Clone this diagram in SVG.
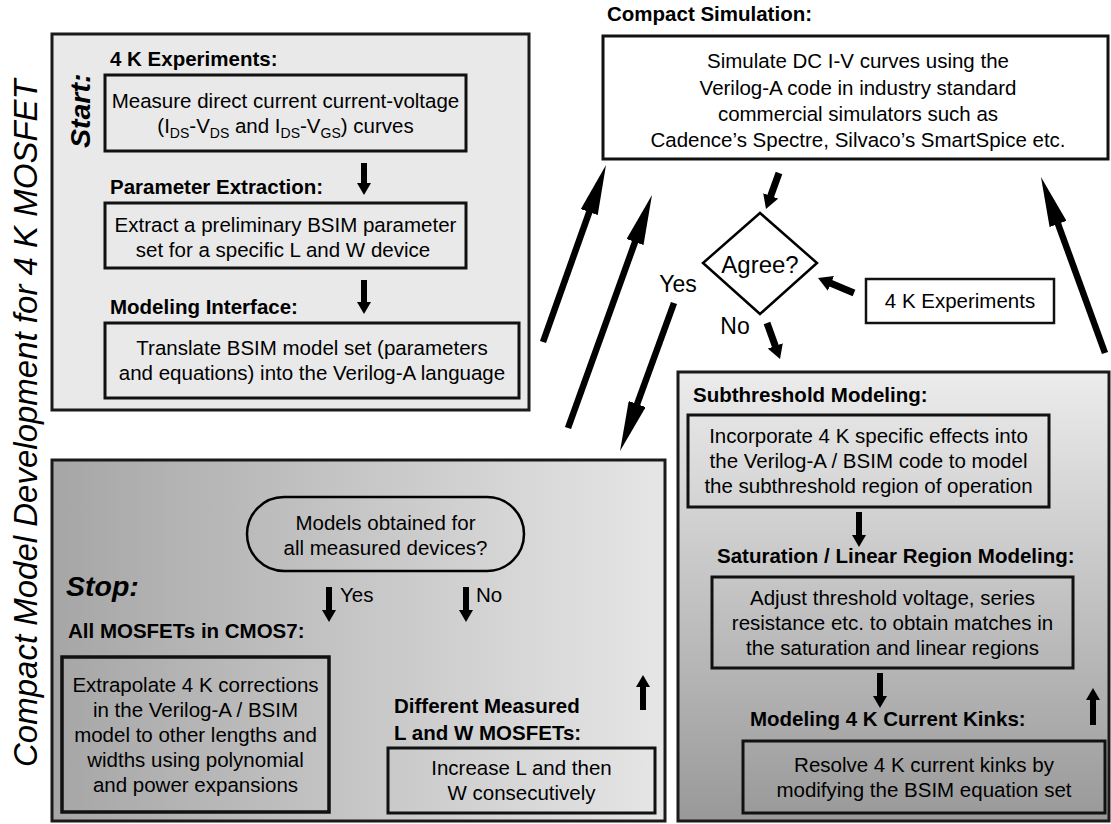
<svg xmlns="http://www.w3.org/2000/svg" width="1111" height="824" viewBox="0 0 1111 824">
<defs>
<style>
text{font-family:'Liberation Sans',Arial,Helvetica,sans-serif;fill:#000}
.t{font-size:20.5px}
.c{text-anchor:middle}
.b{font-size:20.5px;font-weight:bold}
.big{font-size:28.5px;font-weight:bold;font-style:italic}
.sub{font-size:14px}
.box{fill:none;stroke:#111;stroke-width:3}
.wbox{fill:#fff;stroke:#111;stroke-width:3}
.panel{stroke:#1a1a1a;stroke-width:3}
.aL{stroke:#000;stroke-width:6.5;fill:none;marker-end:url(#hL)}
.aS{stroke:#000;stroke-width:7;fill:none;marker-end:url(#hS)}
.aV{stroke:#000;stroke-width:6;fill:none;marker-end:url(#hV)}
</style>
<linearGradient id="gBL" x1="0" y1="0" x2="1" y2="0"><stop offset="0" stop-color="#a6a6a6"/><stop offset="1" stop-color="#e6e6e6"/></linearGradient>
<linearGradient id="gBR" x1="0" y1="0" x2="0" y2="1"><stop offset="0" stop-color="#ececec"/><stop offset="1" stop-color="#999999"/></linearGradient>
<marker id="hL" markerUnits="userSpaceOnUse" markerWidth="50" markerHeight="18" viewBox="0 0 50 18" refX="30" refY="9" orient="auto"><path d="M0,0 L50,9 L0,18 z" fill="#000"/></marker>
<marker id="hS" markerUnits="userSpaceOnUse" markerWidth="14" markerHeight="16" viewBox="0 0 14 16" refX="6" refY="8" orient="auto"><path d="M0,0 L14,8 L0,16 z" fill="#000"/></marker>
<marker id="hV" markerUnits="userSpaceOnUse" markerWidth="12" markerHeight="14" viewBox="0 0 12 14" refX="5" refY="7" orient="auto"><path d="M0,0 L12,7 L0,14 z" fill="#000"/></marker>
</defs>

<text transform="translate(37,767) rotate(-90)" style="font-size:33px;font-style:italic">Compact Model Development for 4 K MOSFET</text>

<g id="panel-start">
<rect class="panel" x="52" y="34" width="477" height="376" fill="#e9e9e9"/>
<text class="big" transform="translate(90,148) rotate(-90)">Start:</text>
</g>

<g id="node-4k-experiments">
<text class="b" x="110" y="66">4 K Experiments:</text>
<rect class="box" x="105" y="75" width="361" height="76"/>
<text class="t c" x="285.5" y="108">Measure direct current current-voltage</text>
<text class="t c" x="285.5" y="133">(I<tspan class="sub" dy="5">DS</tspan><tspan dy="-5">-V</tspan><tspan class="sub" dy="5">DS</tspan><tspan dy="-5"> and I</tspan><tspan class="sub" dy="5">DS</tspan><tspan dy="-5">-V</tspan><tspan class="sub" dy="5">GS</tspan><tspan dy="-5">) curves</tspan></text>
</g>

<g id="node-parameter-extraction">
<text class="b" x="110" y="194">Parameter Extraction:</text>
<rect class="box" x="105" y="203" width="361" height="65"/>
<text class="t c" x="285.5" y="232">Extract a preliminary BSIM parameter</text>
<text class="t c" x="283" y="257">set for a specific L and W device</text>
</g>

<g id="node-modeling-interface">
<text class="b" x="110" y="314">Modeling Interface:</text>
<rect class="box" x="105" y="323" width="414" height="75"/>
<text class="t c" x="312" y="355">Translate BSIM model set (parameters</text>
<text class="t c" x="312" y="380">and equations) into the Verilog-A language</text>
</g>

<g id="node-compact-simulation">
<text class="b" x="607" y="21">Compact Simulation:</text>
<rect class="wbox" x="603" y="36" width="505" height="123"/>
<text class="t c" x="858" y="68">Simulate DC I-V curves using the</text>
<text class="t c" x="858" y="94.5">Verilog-A code in industry standard</text>
<text class="t c" x="858" y="121">commercial simulators such as</text>
<text class="t c" x="858" y="147">Cadence’s Spectre, Silvaco’s SmartSpice etc.</text>
</g>

<g id="node-agree">
<polygon points="760,213 817,263 760,314 703,263" fill="#fff" stroke="#000" stroke-width="2.5"/>
<text class="c" x="760" y="273" style="font-size:24px">Agree?</text>
</g>

<g id="node-4k-exp-input">
<rect x="866" y="279" width="188" height="44" fill="#fff" stroke="#111" stroke-width="2.5"/>
<text class="t c" x="960" y="308">4 K Experiments</text>
</g>

<g id="panel-stop">
<rect class="panel" x="52" y="460" width="613" height="361" fill="url(#gBL)"/>
<text class="big" x="66" y="596">Stop:</text>
</g>

<g id="node-models-obtained">
<rect x="247" y="497" width="277" height="74" rx="37" ry="37" fill="none" stroke="#000" stroke-width="2.5"/>
<text class="t c" x="385.5" y="530">Models obtained for</text>
<text class="t c" x="385.5" y="555">all measured devices?</text>
</g>

<g id="node-all-mosfets">
<text class="b" x="68" y="638">All MOSFETs in CMOS7:</text>
<rect class="box" x="62" y="657" width="267" height="155" style="stroke-width:3.5"/>
<text class="t c" x="195.5" y="692">Extrapolate 4 K corrections</text>
<text class="t c" x="195.5" y="717">in the Verilog-A / BSIM</text>
<text class="t c" x="195.5" y="742">model to other lengths and</text>
<text class="t c" x="195.5" y="767">widths using polynomial</text>
<text class="t c" x="195.5" y="792">and power expansions</text>
</g>

<g id="node-different-lw">
<text class="b" x="394" y="713">Different Measured</text>
<text class="b" x="394" y="740">L and W MOSFETs:</text>
<rect class="box" x="388" y="748" width="267" height="65"/>
<text class="t c" x="521.5" y="775">Increase L and then</text>
<text class="t c" x="521.5" y="800">W consecutively</text>
</g>

<g id="panel-modeling">
<rect class="panel" x="678" y="372" width="431" height="449" fill="url(#gBR)"/>
</g>

<g id="node-subthreshold">
<text class="b" x="693" y="402">Subthreshold Modeling:</text>
<rect class="box" x="688" y="415" width="361" height="92"/>
<text class="t c" x="868.5" y="443">Incorporate 4 K specific effects into</text>
<text class="t c" x="868.5" y="468">the Verilog-A / BSIM code to model</text>
<text class="t c" x="868.5" y="493">the subthreshold region of operation</text>
</g>

<g id="node-saturation">
<text class="b" x="717" y="563">Saturation / Linear Region Modeling:</text>
<rect class="box" x="712" y="577" width="361" height="91"/>
<text class="t c" x="892.5" y="605">Adjust threshold voltage, series</text>
<text class="t c" x="892.5" y="630">resistance etc. to obtain matches in</text>
<text class="t c" x="892.5" y="655">the saturation and linear regions</text>
</g>

<g id="node-kinks">
<text class="b" x="750" y="726">Modeling 4 K Current Kinks:</text>
<rect class="box" x="743" y="741" width="362" height="72"/>
<text class="t c" x="924" y="772">Resolve 4 K current kinks by</text>
<text class="t c" x="924" y="797">modifying the BSIM equation set</text>
</g>

<g id="connectors">
<line class="aV" x1="364" y1="163" x2="364" y2="188"/>
<line class="aV" x1="364" y1="280" x2="364" y2="307"/>
<line class="aV" x1="329" y1="587" x2="329" y2="615"/>
<line class="aV" x1="466" y1="587" x2="466" y2="615"/>
<line class="aV" x1="643" y1="710" x2="643" y2="682"/>
<line class="aV" x1="859" y1="512" x2="859" y2="540"/>
<line class="aV" x1="880" y1="673" x2="880" y2="701"/>
<line class="aV" x1="1093" y1="725" x2="1093" y2="695"/>
<line class="aL" x1="543" y1="342" x2="599.3" y2="183.8"/>
<line class="aL" x1="568" y1="428" x2="645.2" y2="213.8"/>
<line class="aL" x1="674" y1="303" x2="626.9" y2="432.2"/>
<line class="aL" x1="1105" y1="353" x2="1047.8" y2="195.8"/>
<line class="aS" x1="779" y1="173" x2="768.7" y2="201.5"/>
<line class="aS" x1="767" y1="323" x2="777.3" y2="351.5"/>
<line class="aS" x1="854" y1="293" x2="825.4" y2="281.1"/>
<text class="c" x="678" y="292" style="font-size:23px">Yes</text>
<text class="c" x="735" y="334" style="font-size:23px">No</text>
<text class="t" x="340" y="602">Yes</text>
<text class="t" x="476" y="602">No</text>
</g>
</svg>
